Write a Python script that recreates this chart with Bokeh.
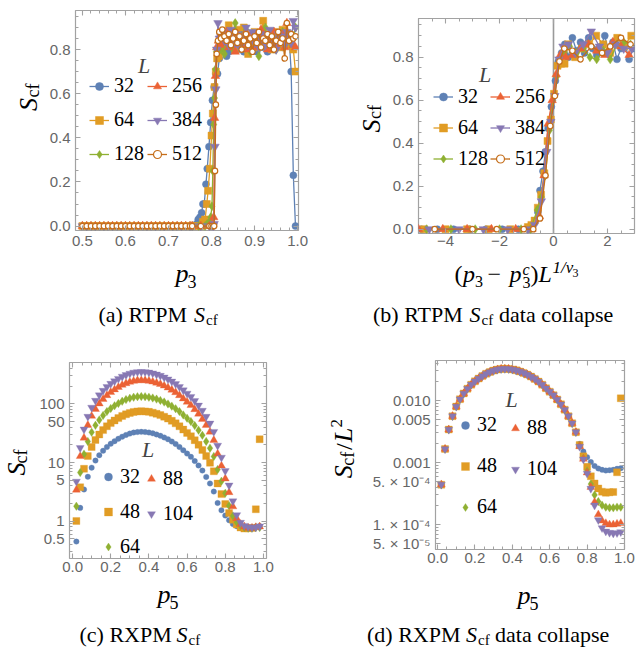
import math
from bokeh.plotting import figure
from bokeh.models import (Range1d, FixedTicker, PrintfTickFormatter, LinearAxis, LogAxis,
                          Legend, LegendItem, Label, Span, CustomLabelingPolicy)
from bokeh.layouts import column, row
from bokeh.embed import file_html
from bokeh.resources import INLINE

# ---------------- data: panel (a) RTPM S_cf vs p3 ----------------
L_rtpm = [32, 64, 128, 256, 384, 512]
p3_low = [0.50, 0.51, 0.52, 0.53, 0.54, 0.55, 0.56, 0.57, 0.58, 0.59, 0.60, 0.61, 0.62,
          0.63, 0.64, 0.65, 0.66, 0.67, 0.68, 0.69, 0.70, 0.71, 0.72, 0.73, 0.74, 0.75]
s_low = [0.0, 0.0, 0.0, 0.0, 0.0, 0.0, 0.0, 0.0, 0.0, 0.0, 0.0, 0.0, 0.0,
         0.0, 0.0, 0.0, 0.0, 0.0, 0.0, 0.0, 0.0, 0.0, 0.0, 0.0, 0.0, 0.0]
p3_plat = [0.825, 0.83, 0.835, 0.84, 0.845, 0.85, 0.855, 0.86, 0.865, 0.87, 0.875, 0.88,
           0.885, 0.89, 0.895, 0.90, 0.905, 0.91, 0.915, 0.92, 0.925, 0.93, 0.935, 0.94,
           0.945, 0.95, 0.955, 0.96, 0.965, 0.97, 0.975, 0.98, 0.985, 0.99, 0.995]

a_x32 = [0.755, 0.76, 0.765, 0.769, 0.773, 0.777, 0.78, 0.783, 0.787, 0.79, 0.794, 0.798, 0.802, 0.806, 0.81, 0.814, 0.818, 0.822]
a_y32 = [0.0, 0.0, 0.01, 0.03, 0.04, 0.06, 0.10, 0.10, 0.19, 0.26, 0.36, 0.47, 0.57, 0.63, 0.69, 0.69, 0.76, 0.79]
a_x64 = [0.755, 0.765, 0.775, 0.78, 0.785, 0.789, 0.792, 0.796, 0.80, 0.803, 0.807, 0.81, 0.813, 0.817, 0.821]
a_y64 = [0.0, 0.0, 0.0, 0.02, 0.03, 0.10, 0.16, 0.26, 0.41, 0.51, 0.63, 0.70, 0.76, 0.77, 0.80]
a_x128 = [0.755, 0.77, 0.785, 0.79, 0.795, 0.798, 0.801, 0.803, 0.805, 0.807, 0.809, 0.811, 0.814, 0.818, 0.822]
a_y128 = [0.0, 0.0, 0.0, 0.01, 0.02, 0.04, 0.09, 0.25, 0.46, 0.58, 0.71, 0.79, 0.80, 0.82, 0.80]
a_x256 = [0.755, 0.775, 0.795, 0.80, 0.803, 0.805, 0.807, 0.809, 0.812, 0.816, 0.82]
a_y256 = [0.0, 0.0, 0.0, 0.0, 0.01, 0.04, 0.49, 0.68, 0.81, 0.84, 0.82]
a_x384 = [0.755, 0.775, 0.795, 0.80, 0.804, 0.806, 0.808, 0.81, 0.812, 0.815, 0.818, 0.822]
a_y384 = [0.0, 0.0, 0.0, 0.0, 0.0, 0.01, 0.36, 0.62, 0.80, 0.92, 0.85, 0.86]
a_x512 = [0.755, 0.775, 0.795, 0.80, 0.804, 0.806, 0.808, 0.81, 0.812, 0.815, 0.818, 0.822]
a_y512 = [0.0, 0.0, 0.0, 0.0, 0.0, 0.0, 0.25, 0.55, 0.78, 0.84, 0.88, 0.85]

plat32 = [0.80, 0.82, 0.77, 0.79, 0.84, 0.81, 0.86, 0.80, 0.83, 0.88, 0.79, 0.85, 0.82, 0.80, 0.87,
          0.83, 0.79, 0.84, 0.86, 0.81, 0.85, 0.79, 0.83, 0.87, 0.80, 0.84, 0.82, 0.88, 0.81, 0.85,
          0.83, 0.86, 0.70, 0.23, 0.00]
plat64 = [0.82, 0.86, 0.84, 0.91, 0.83, 0.87, 0.80, 0.89, 0.85, 0.82, 0.90, 0.84, 0.78, 0.86, 0.83,
          0.88, 0.81, 0.85, 0.87, 0.93, 0.82, 0.86, 0.84, 0.80, 0.88, 0.83, 0.86, 0.81, 0.89, 0.85,
          0.82, 0.87, 0.84, 0.80, 0.70]
plat128 = [0.81, 0.78, 0.85, 0.83, 0.88, 0.80, 0.92, 0.84, 0.82, 0.86, 0.81, 0.89, 0.84, 0.79, 0.87,
           0.83, 0.86, 0.77, 0.84, 0.82, 0.90, 0.85, 0.81, 0.87, 0.83, 0.80, 0.86, 0.84, 0.88, 0.82,
           0.85, 0.87, 0.83, 0.86, 0.90]
plat256 = [0.85, 0.83, 0.88, 0.81, 0.86, 0.84, 0.79, 0.87, 0.83, 0.85, 0.82, 0.88, 0.80, 0.86, 0.84,
           0.81, 0.87, 0.83, 0.89, 0.82, 0.85, 0.80, 0.86, 0.84, 0.88, 0.82, 0.85, 0.83, 0.87, 0.81,
           0.92, 0.84, 0.86, 0.82, 0.81]
plat384 = [0.88, 0.84, 0.86, 0.82, 0.89, 0.85, 0.83, 0.87, 0.81, 0.86, 0.84, 0.90, 0.82, 0.85, 0.88,
           0.83, 0.86, 0.81, 0.84, 0.87, 0.82, 0.86, 0.89, 0.83, 0.85, 0.80, 0.87, 0.84, 0.86, 0.82,
           0.88, 0.85, 0.83, 0.93, 0.90]
plat512 = [0.89, 0.86, 0.84, 0.87, 0.82, 0.85, 0.88, 0.83, 0.86, 0.80, 0.84, 0.87, 0.82, 0.85, 0.79,
           0.86, 0.83, 0.88, 0.81, 0.85, 0.84, 0.87, 0.82, 0.86, 0.80, 0.84, 0.88, 0.83, 0.85, 0.76,
           0.92, 0.84, 0.87, 0.85, 0.86]

# ---------------- data: panel (b) data collapse ----------------
b_x32 = [-4.9, -4.3, -3.7, -3.1, -2.5, -1.9, -1.3, -0.9, -0.71, -0.58, -0.5, -0.39, -0.3, -0.2, -0.08,
         0.07, 0.18, 0.3, 0.42, 0.55, 0.7, 0.85, 1.0, 1.15, 1.3, 1.45, 1.6, 1.75, 1.9, 2.05, 2.2,
         2.35, 2.5, 2.65, 2.8, 2.95]
b_y32 = [0.0, 0.0, 0.0, 0.0, 0.0, 0.0, 0.0, 0.0, 0.03, 0.08, 0.18, 0.27, 0.36, 0.47, 0.57,
         0.69, 0.78, 0.82, 0.86, 0.80, 0.89, 0.83, 0.87, 0.82, 0.89, 0.84, 0.81, 0.85, 0.90, 0.82, 0.87,
         0.79, 0.84, 0.86, 0.79, 0.84]
b_x64 = [-4.8, -4.0, -3.2, -2.4, -1.6, -0.95, -0.82, -0.7, -0.58, -0.46, -0.34, -0.22, -0.1,
         0.02, 0.15, 0.28, 0.41, 0.54, 0.8, 1.06, 1.32, 1.58, 1.84, 2.1, 2.36, 2.62, 2.88]
b_y64 = [0.0, 0.0, 0.0, 0.0, 0.0, 0.01, 0.02, 0.04, 0.10, 0.16, 0.26, 0.41, 0.51,
         0.63, 0.76, 0.77, 0.77, 0.86, 0.80, 0.84, 0.86, 0.90, 0.86, 0.82, 0.89, 0.85, 0.90]
b_x128 = [-4.7, -3.8, -2.9, -2.0, -1.2, -0.85, -0.6, -0.45, -0.3, -0.15, -0.02, 0.12, 0.25, 0.4,
          0.6, 0.85, 1.1, 1.35, 1.6, 1.85, 2.1, 2.35, 2.6, 2.85]
b_y128 = [0.0, 0.0, 0.0, 0.0, 0.0, 0.0, 0.09, 0.15, 0.25, 0.46, 0.60, 0.71, 0.79, 0.82,
          0.85, 0.82, 0.84, 0.80, 0.79, 0.83, 0.79, 0.86, 0.87, 0.86]
b_x256 = [-5.0, -4.1, -3.2, -2.3, -1.4, -0.8, -0.52, -0.35, -0.2, -0.05, 0.1, 0.25, 0.45, 0.7,
          1.0, 1.3, 1.6, 1.9, 2.2, 2.5, 2.8]
b_y256 = [0.0, 0.0, 0.0, 0.0, 0.0, 0.0, 0.06, 0.25, 0.49, 0.60, 0.72, 0.81, 0.80, 0.81,
          0.84, 0.86, 0.83, 0.81, 0.87, 0.85, 0.81]
b_x384 = [-4.6, -3.5, -2.6, -1.7, -0.95, -0.7, -0.45, -0.25, -0.1, 0.05, 0.2, 0.35, 0.55, 0.8,
          1.1, 1.4, 1.7, 2.0, 2.3, 2.6, 2.9]
b_y384 = [0.0, 0.0, 0.0, 0.0, 0.0, 0.02, 0.13, 0.36, 0.50, 0.62, 0.79, 0.85, 0.86, 0.82,
          0.86, 0.92, 0.85, 0.82, 0.86, 0.84, 0.84]
b_x512 = [-4.4, -3.0, -2.1, -1.1, -0.75, -0.5, -0.3, -0.12, 0.05, 0.22, 0.4, 0.7, 1.0, 1.4,
          1.8, 2.1, 2.5, 2.85]
b_y512 = [0.0, 0.0, 0.0, 0.0, 0.0, 0.05, 0.25, 0.48, 0.62, 0.78, 0.84, 0.83, 0.79, 0.85,
          0.82, 0.85, 0.89, 0.86]

# ---------------- data: panels (c)/(d) RXPM S_cf vs p5 ----------------
L_rxpm = [32, 48, 64, 88, 104]
p5 = [0.02, 0.04, 0.06, 0.08, 0.10, 0.12, 0.14, 0.16, 0.18, 0.20, 0.22, 0.24, 0.26, 0.28, 0.30,
      0.32, 0.34, 0.36, 0.38, 0.40, 0.42, 0.44, 0.46, 0.48, 0.50, 0.52, 0.54, 0.56, 0.58, 0.60,
      0.62, 0.64, 0.66, 0.68, 0.70, 0.72, 0.74, 0.76, 0.78, 0.80, 0.82, 0.84, 0.86, 0.88, 0.90,
      0.92, 0.94, 0.96, 0.98]
S32 = [0.45, 1.69, 3.48, 5.73, 8.19, 10.8, 13.3, 15.9, 18.4, 20.9, 23.1, 25.4, 27.6, 29.5, 31.1,
       32.4, 33.1, 33.3, 33.1, 32.5, 31.4, 30.1, 28.6, 26.8, 24.9, 22.8, 20.7, 18.4, 16.2, 14.2,
       12.5, 10.6, 8.9, 7.3, 5.7, 4.4, 3.2, 2.05, 1.54, 1.25, 1.04, 0.90, 0.82, 0.78, 0.76,
       0.77, 0.78, 0.81, 0.83]
S48 = [1.01, 3.80, 7.83, 12.9, 18.4, 24.2, 30.0, 35.7, 41.5, 47.0, 52.1, 57.1, 62.2, 66.4, 70.0,
       72.8, 74.4, 74.9, 74.4, 73.0, 70.7, 67.7, 64.3, 60.4, 56.0, 51.4, 46.5, 41.5, 36.4, 32.0,
       28.1, 24.0, 20.0, 16.4, 12.9, 9.9, 7.1, 4.4, 2.9, 1.96, 1.38, 1.06, 0.88, 0.78, 0.75,
       0.76, 0.77, 1.6, 25.0]
S64 = [1.80, 6.76, 13.9, 22.9, 32.8, 43.0, 53.2, 63.5, 73.7, 83.6, 92.6, 101.6, 110.6, 118.0, 124.5,
       129.4, 132.3, 133.1, 132.3, 129.8, 125.7, 120.4, 114.3, 107.3, 99.5, 91.3, 82.7, 73.7, 64.7, 56.9,
       50.0, 42.6, 35.6, 29.1, 22.9, 17.6, 12.7, 7.6, 4.8, 3.0, 1.84, 1.23, 0.96, 0.84, 0.78,
       0.76, 0.76, 0.78, 0.78]
S88 = [3.41, 12.8, 26.3, 43.4, 62.0, 81.3, 100.7, 120.0, 139.4, 158.0, 175.0, 192.1, 209.1, 223.0, 235.4,
       244.7, 250.1, 251.7, 250.1, 245.5, 237.7, 227.7, 216.1, 202.9, 188.2, 172.7, 156.4, 139.4, 122.4, 107.6,
       94.5, 80.5, 67.4, 55.0, 43.4, 33.3, 24.0, 14.1, 8.8, 5.3, 3.1, 1.78, 1.12, 0.89, 0.81,
       0.77, 0.77, 0.79, 0.81]
S104 = [4.76, 17.8, 36.8, 60.6, 86.5, 113.6, 140.6, 167.6, 194.7, 220.6, 244.4, 268.2, 292.0, 311.5, 328.8,
        341.8, 349.4, 351.5, 349.4, 342.9, 332.1, 318.0, 301.8, 283.4, 262.8, 241.2, 218.5, 194.7, 170.9, 150.3,
        132.0, 112.5, 94.1, 76.8, 60.6, 46.5, 33.5, 19.5, 12.2, 7.2, 4.1, 2.2, 1.28, 0.95, 0.84,
        0.80, 0.78, 0.79, 0.82]

# ---------------- ticks ----------------
a_xticks = [0.5, 0.6, 0.7, 0.8, 0.9, 1.0]
lin_yticks = [0.0, 0.2, 0.4, 0.6, 0.8]
b_xticks = [-4, -2, 0, 2]
b_xlabels = ["\u22124", "\u22122", "0", "2"]
cd_xticks = [0.0, 0.2, 0.4, 0.6, 0.8, 1.0]
c_yticks = [0.5, 1, 5, 10, 50, 100]
c_ylabels = ["0.5", "1", "5", "10", "50", "100"]
d_yticks = [5e-5, 1e-4, 5e-4, 1e-3, 5e-3, 1e-2]
d_ylabels = ["5. \u00d7 10\u207b\u2075", "1. \u00d7 10\u207b\u2074", "5. \u00d7 10\u207b\u2074",
             "0.001", "0.005", "0.010"]

# ---------------- styling ----------------
COLORS = ["#5E81B5", "#E19C24", "#8FB032", "#EB6235", "#8778B3", "#C56E1A"]
FRAME = "#a2a2a2"
TICKLAB = "#666666"
SANS = "Liberation Sans"
SERIF = "Liberation Serif"
MID = 0.3375          # (ascent - descent) / 2 of Liberation Serif, in em


def minor_lin(lo, hi, step):
    n = int(round((hi - lo) / step))
    return [round(lo + i * step, 6) for i in range(n + 1)]


def minor_log(lo_exp, hi_exp):
    out = []
    for e in range(lo_exp, hi_exp + 1):
        for m in range(1, 10):
            out.append(m * 10.0 ** e)
    return out


def make_fig(xr, yr, fw, fh, bl, br, bt, bb, ylog=False):
    p = figure(x_range=Range1d(*xr), y_range=Range1d(*yr),
               y_axis_type="log" if ylog else "linear",
               frame_width=fw, frame_height=fh,
               min_border_left=bl, min_border_right=br, min_border_top=bt, min_border_bottom=bb,
               toolbar_location=None, output_backend="svg",
               outline_line_color=FRAME, outline_line_width=1.2,
               background_fill_color="white", border_fill_color="white")
    p.grid.visible = False
    return p


def style_axis(ax, ticker, labels=True, overrides=None, fmt=None, standoff=5):
    ax.ticker = ticker
    ax.axis_line_color = None
    ax.major_tick_line_color = FRAME
    ax.minor_tick_line_color = FRAME
    ax.major_tick_line_width = 1.1
    ax.minor_tick_line_width = 1.0
    ax.major_tick_in = 5
    ax.major_tick_out = 0
    ax.minor_tick_in = 3
    ax.minor_tick_out = 0
    if labels:
        ax.major_label_text_font = SANS
        ax.major_label_text_font_size = "15px"
        ax.major_label_text_color = TICKLAB
        ax.major_label_standoff = standoff
        if fmt is not None:
            ax.formatter = PrintfTickFormatter(format=fmt)
        if overrides is not None:
            ax.major_label_overrides = overrides
    else:
        ax.major_label_text_font_size = "1px"
        ax.major_label_standoff = 0
        ax.major_label_policy = CustomLabelingPolicy(code="return []")


def frame_axes(p, xticker, yticker, ylog=False, xfmt=None, yfmt=None, xover=None, yover=None, xstand=5):
    style_axis(p.xaxis[0], xticker, fmt=xfmt, overrides=xover, standoff=xstand)
    style_axis(p.yaxis[0], yticker, fmt=yfmt, overrides=yover, standoff=5)
    top = LinearAxis()
    style_axis(top, xticker, labels=False)
    p.add_layout(top, "above")
    right = LogAxis() if ylog else LinearAxis()
    style_axis(right, yticker, labels=False)
    p.add_layout(right, "right")


def text_fig(x0, y0, w, h):
    """Blank figure used only to hold text; its frame is the whole canvas (1 unit = 1 px)."""
    f = figure(width=w, height=h, x_range=Range1d(0, w), y_range=Range1d(0, h),
               min_border_left=0, min_border_right=0, min_border_top=0, min_border_bottom=0,
               x_axis_type=None, y_axis_type=None, toolbar_location=None, output_backend="svg",
               outline_line_color=None, background_fill_color="white", border_fill_color="white")

    def put(px, base, text, size, style="normal", align="left"):
        # horizontal text; 'base' is the wanted alphabetic baseline (page px)
        yc = base - MID * size
        f.add_layout(Label(x=px - x0, y=y0 + h - yc, x_units="data", y_units="data",
                           text=text, text_font=SERIF, text_font_size=f"{size}px",
                           text_font_style=style, text_align=align, text_baseline="middle",
                           text_color="black"))

    def rot(px, py, text, size, style="normal"):
        # vertical text (reading upwards) centred on (px, py)
        f.add_layout(Label(x=px - x0, y=y0 + h - py, x_units="data", y_units="data",
                           text=text, text_font=SERIF, text_font_size=f"{size}px",
                           text_font_style=style, text_align="center", text_baseline="middle",
                           angle=math.pi / 2, text_color="black"))
    return f, put, rot


def add_legend(p, items, x, y, spacing, gw, lh=20, standoff=5):
    lg = Legend(items=items, location=(x, y), orientation="vertical",
                glyph_width=gw, glyph_height=lh, label_height=lh, spacing=spacing,
                padding=0, margin=0, label_standoff=standoff,
                label_text_font=SERIF, label_text_font_size="20px", label_text_color="black",
                background_fill_alpha=0, border_line_alpha=0)
    p.add_layout(lg)


def title_L(p, x, y):
    p.add_layout(Label(x=x, y=y, x_units="screen", y_units="screen", text="L", text_font=SERIF,
                       text_font_size="22px", text_font_style="italic", text_align="center",
                       text_baseline="middle"))


MARK = ["circle", "square", "diamond", "triangle", "inverted_triangle", "circle"]
SIZE_AB = [7, 7, 9, 8.5, 8.5, 5.5]


def line_series(p, xs, ys, k):
    c = COLORS[k]
    ln = p.line(xs, ys, line_color=c, line_width=1.3)
    if k == 5:
        sc = p.scatter(xs, ys, marker="circle", size=SIZE_AB[k], fill_color="white",
                       line_color=c, line_width=1.2)
    else:
        sc = p.scatter(xs, ys, marker=MARK[k], size=SIZE_AB[k],
                       fill_color=c, line_color=c, line_width=0.5)
    return [ln, sc]


# ---------------- panel (a) ----------------
pa = make_fig((0.484, 1.002), (-0.02, 0.977), 223, 220, 28, 25, 10, 24)
frame_axes(pa, FixedTicker(ticks=a_xticks, minor_ticks=minor_lin(0.48, 1.0, 0.02)),
           FixedTicker(ticks=lin_yticks, minor_ticks=minor_lin(0.0, 0.95, 0.05)),
           xfmt="%.1f", yfmt="%.1f", xstand=5)
a_sets = [(a_x32, a_y32, plat32), (a_x64, a_y64, plat64), (a_x128, a_y128, plat128),
          (a_x256, a_y256, plat256), (a_x384, a_y384, plat384), (a_x512, a_y512, plat512)]
a_rend = []
for k, (tx, ty, py_) in enumerate(a_sets):
    a_rend.append(line_series(pa, p3_low + tx + p3_plat, s_low + ty + py_, k))
add_legend(pa, [LegendItem(label=str(L_rtpm[k]), renderers=a_rend[k]) for k in range(3)], 14, 65, 11, 20)
add_legend(pa, [LegendItem(label=str(L_rtpm[k]), renderers=a_rend[k]) for k in range(3, 6)], 72, 65, 11, 20)
title_L(pa, 142.5 - 74, 230 - 64.5)

ya, _, ra = text_fig(0, 0, 46, 254)
ra(27.5, 108.5, "S", 26, style="italic")
ra(32, 92.5, "cf", 18)
ba, tba, _ = text_fig(0, 254, 322, 76)
tba(175, 282, "p", 26, style="italic")
tba(187, 287, "3", 18)
tba(98, 321, "(a) RTPM", 22)
tba(193.5, 321, "S", 22, style="italic")
tba(205.5, 325, "cf", 15)

# ---------------- panel (b) ----------------
pb = make_fig((-5.0, 3.0), (-0.02, 0.98), 216, 215, 31, 11, 18, 21)
frame_axes(pb, FixedTicker(ticks=b_xticks, minor_ticks=minor_lin(-5.0, 3.0, 0.5)),
           FixedTicker(ticks=lin_yticks, minor_ticks=minor_lin(0.0, 0.95, 0.05)),
           yfmt="%.1f", xover={t: s for t, s in zip(b_xticks, b_xlabels)}, xstand=2)
pb.add_layout(Span(location=0, dimension="height", line_color="#9a9a9a", line_width=1.6, level="underlay"))
b_sets = [(b_x32, b_y32), (b_x64, b_y64), (b_x128, b_y128), (b_x256, b_y256), (b_x384, b_y384), (b_x512, b_y512)]
b_rend = [line_series(pb, bx, by, k) for k, (bx, by) in enumerate(b_sets)]
add_legend(pb, [LegendItem(label=str(L_rtpm[k]), renderers=b_rend[k]) for k in range(3)], 15, 63, 8, 20, lh=21)
add_legend(pb, [LegendItem(label=str(L_rtpm[k]), renderers=b_rend[k]) for k in range(3, 6)], 72, 63, 8, 20, lh=21)
title_L(pb, 483.5 - 417, 233 - 74)

yb, _, rb = text_fig(322, 0, 64, 254)
rb(369.5, 127, "S", 26, style="italic")
rb(373.5, 110.5, "cf", 18)
bb, tbb, _ = text_fig(322, 254, 322, 76)
tbb(453, 282, "(", 24)
tbb(461.5, 282, "p", 24, style="italic")
tbb(473.5, 286, "3", 16)
tbb(486, 282, "\u2212", 24)
tbb(508, 282, "p", 24, style="italic")
tbb(521, 274, "c", 16, style="italic")
tbb(521, 287, "3", 16)
tbb(529, 282, ")", 24)
tbb(537, 282, "L", 24, style="italic")
tbb(551, 273, "1/\u03bd", 17, style="italic")
tbb(571, 277, "3", 12)
tbb(371.5, 321, "(b) RTPM", 22)
tbb(468, 321, "S", 22, style="italic")
tbb(480, 325, "cf", 15)
tbb(497.5, 321, "data collapse", 22)

# ---------------- panel (c) ----------------
S_all = [S32, S48, S64, S88, S104]
MARK_CD = ["circle", "square", "diamond", "triangle", "inverted_triangle"]
SIZE_CD = [5.5, 7, 8.5, 8, 8]
COL_CD = [COLORS[0], COLORS[1], COLORS[2], COLORS[3], COLORS[4]]

pc = make_fig((-0.016, 1.016), (0.232, 506), 197, 196, 34, 56, 32, 22, ylog=True)
frame_axes(pc, FixedTicker(ticks=cd_xticks, minor_ticks=minor_lin(0.0, 1.0, 0.05)),
           FixedTicker(ticks=c_yticks, minor_ticks=minor_log(-1, 2)), ylog=True,
           xfmt="%.1f", yover={t: s for t, s in zip(c_yticks, c_ylabels)}, xstand=3)
c_rend = []
for k, S in enumerate(S_all):
    c_rend.append(pc.scatter(p5, S, marker=MARK_CD[k], size=SIZE_CD[k],
                             fill_color=COL_CD[k], line_color=COL_CD[k], line_width=0.3))
add_legend(pc, [LegendItem(label=str(L_rxpm[k]), renderers=[c_rend[k]]) for k in (0, 1, 2)],
           29, 0.5, 12, 20, lh=21, standoff=2)
add_legend(pc, [LegendItem(label=str(L_rxpm[k]), renderers=[c_rend[k]]) for k in (3, 4)],
           72, 33.5, 12, 20, lh=21, standoff=2)
title_L(pc, 147.5 - 69, 558 - 448.5)

yc, _, rc = text_fig(0, 330, 35, 250)
rc(16, 466, "S", 26, style="italic")
rc(20, 450, "cf", 18)
bc, tbc, _ = text_fig(0, 580, 322, 69)
tbc(157, 603, "p", 26, style="italic")
tbc(169, 608, "5", 18)
tbc(79, 641, "(c) RXPM", 22)
tbc(176, 641, "S", 22, style="italic")
tbc(188, 645, "cf", 15)

# ---------------- panel (d) ----------------
pd = make_fig((-0.011, 1.0), (3.95e-5, 0.0442), 189, 189, 73, 20, 30, 31, ylog=True)
frame_axes(pd, FixedTicker(ticks=cd_xticks, minor_ticks=minor_lin(0.0, 1.0, 0.05)),
           FixedTicker(ticks=d_yticks, minor_ticks=minor_log(-5, -2)), ylog=True,
           xfmt="%.1f", yover={t: s for t, s in zip(d_yticks, d_ylabels)}, xstand=3)
d_rend = []
for k, S in enumerate(S_all):
    Lsq = L_rxpm[k] ** 2
    d_rend.append(pd.scatter(p5, [s / Lsq for s in S], marker=MARK_CD[k], size=SIZE_CD[k],
                             fill_color=COL_CD[k], line_color=COL_CD[k], line_width=0.3))
add_legend(pd, [LegendItem(label=str(L_rxpm[k]), renderers=[d_rend[k]]) for k in (0, 1, 2)],
           20, 31, 18, 20, lh=20, standoff=2)
add_legend(pd, [LegendItem(label=str(L_rxpm[k]), renderers=[d_rend[k]]) for k in (3, 4)],
           70, 69, 18, 20, lh=20, standoff=2)
title_L(pd, 511 - 435, 549 - 398.5)

yd, _, rd = text_fig(322, 330, 40, 250)
rd(343, 477, "S", 26, style="italic")
rd(347, 460, "cf", 18)
rd(343, 444, "/", 24)
rd(343, 428.5, "L", 26, style="italic")
rd(336, 413, "2", 17)
bd, tbd, _ = text_fig(322, 580, 322, 69)
tbd(517, 604, "p", 26, style="italic")
tbd(529, 609, "5", 18)
tbd(366.5, 641, "(d) RXPM", 22)
tbd(465.5, 641, "S", 22, style="italic")
tbd(477.5, 645, "cf", 15)
tbd(494.5, 641, "data collapse", 22)

colA = column(row(ya, pa), ba)
colB = column(row(yb, pb), bb)
colC = column(row(yc, pc), bc)
colD = column(row(yd, pd), bd)
layout = column(row(colA, colB), row(colC, colD))
open("out.html", "w").write(file_html(layout, INLINE))
